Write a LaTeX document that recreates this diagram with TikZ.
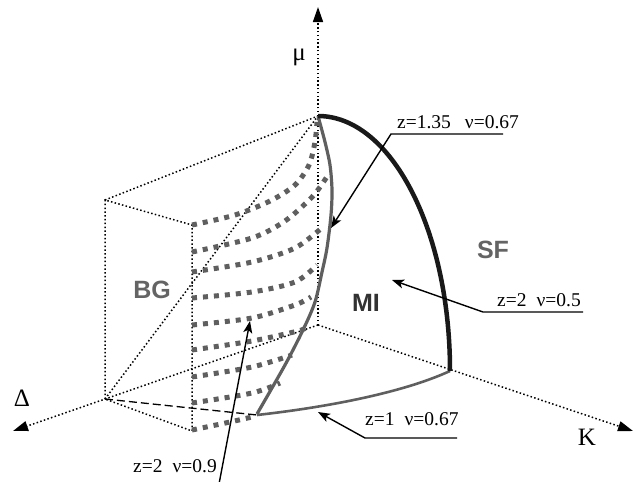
\documentclass[tikz,border=0pt]{standalone}
\usepackage{fontspec}
\setmainfont{Liberation Serif}
\newfontfamily\lsans{Liberation Sans}
\usetikzlibrary{arrows.meta}
\definecolor{dgray}{RGB}{95,95,95}
\definecolor{rgray}{RGB}{100,100,100}
\definecolor{mgray}{RGB}{50,50,50}
\begin{document}
\begin{tikzpicture}[x=1pt,y=-1pt,
  fine/.style={line width=1.5pt, dash pattern=on 1.5pt off 2.3pt},
  axis/.style={fine, -{Triangle[length=15pt,width=10pt]}},
  longdash/.style={line width=1.3pt, dash pattern=on 8pt off 4pt},
  sq/.style={line width=5pt, dash pattern=on 5pt off 6pt, draw=dgray},
  mi/.style={line width=3.2pt, draw=dgray, line join=round},
  bot/.style={line width=2.6pt, draw=dgray},
  sf/.style={line width=4.5pt, draw=black!90},
  lead/.style={line width=1.4pt, -{Stealth[length=12pt,width=9pt,inset=3pt]}},
  ann/.style={font=\fontsize{19.5}{22}\selectfont, inner sep=0pt, anchor=base west},
  axlab/.style={font=\fontsize{25}{28}\selectfont, inner sep=0pt},
  reg/.style={font=\lsans\bfseries\fontsize{25}{28}\selectfont, inner sep=0pt, text=rgray},
]
\useasboundingbox (0,0) rectangle (641,482);
% key points
\coordinate (O) at (318,325);
\coordinate (muTip) at (318,7);
\coordinate (KTip) at (633,431);
\coordinate (DTip) at (13,431);
\coordinate (T) at (318,116);
\coordinate (D0) at (105,399);
\coordinate (BTL) at (105,200);
\coordinate (FTL) at (192,225);
\coordinate (FBL) at (192,431);
\coordinate (G0) at (257,415);
\coordinate (S0) at (450,371);
% axes
\draw[axis] (O) -- (muTip);
\draw[axis] (O) -- (KTip);
\draw[axis] (O) -- (DTip);
% box
\draw[fine] (D0) -- (BTL) -- (FTL) -- (FBL) -- (D0);
\draw[fine] (BTL) -- (T);
\draw[fine] (D0) -- (T);
\draw[longdash] (D0) -- (G0);
% square-dotted curves
\draw[sq] plot[smooth] coordinates {(192,225) (235,215) (270,201) (295,185) (309,165) (315,142) (317,122)};
\draw[sq] plot[smooth] coordinates {(192,252) (252,238) (285,221) (313,196) (328,175)};
\draw[sq] plot[smooth] coordinates {(192,272) (252,262) (295,248) (324,226)};
\draw[sq] plot[smooth] coordinates {(192,298) (252,292) (295,282) (317,265)};
\draw[sq] plot[smooth] coordinates {(192,325) (252,318) (295,305) (311,297)};
\draw[sq] plot[smooth] coordinates {(192,350) (252,341) (298,331) (305,328)};
\draw[sq] plot[smooth] coordinates {(192,377) (252,367) (292,355)};
\draw[sq] plot[smooth] coordinates {(192,403) (252,393) (280,383)};
\draw[sq] plot[smooth] coordinates {(192,430) (230,422) (252,417)};
% MI boundary
\draw[mi] plot[smooth] coordinates {(318,116) (325,142) (330,165) (332,190) (331,215) (327,248) (322,272) (315,302) (303,330) (285,365) (257,414)};
\draw[bot] (G0) .. controls (320,408) and (400,394) .. (S0);
% SF boundary
\draw[sf] (T) .. controls (391,116) and (450,230) .. (S0);
% labels
\node[axlab] (mu) at (299,57) {μ};
\node[axlab] (dl) at (22,398) {Δ};
\node[axlab] (kl) at (587,437) {K};
\node[reg] (bg) at (152,290) {BG};
\node[reg, text=mgray] (mil) at (366,303) {MI};
\node[reg] (sfl) at (493,250) {SF};
% annotations
\node[ann] (a1) at (397,128) {z=1.35\hspace{14pt}ν=0.67};
\coordinate (u1) at (391,134); \coordinate (u1e) at (503,134); \coordinate (t1) at (331,228);
\draw[lead] (u1e) -- (u1) -- (t1);
\node[ann] (a2) at (497,306) {z=2\hspace{10pt}ν=0.5};
\coordinate (u2) at (483,312); \coordinate (u2e) at (583,312); \coordinate (t2) at (392,280);
\draw[lead] (u2e) -- (u2) -- (t2);
\node[ann] (a3) at (365,425) {z=1\hspace{10pt}ν=0.67};
\coordinate (u3) at (365,438); \coordinate (u3e) at (457,438); \coordinate (t3) at (318,412);
\draw[lead] (u3e) -- (u3) -- (t3);
\node[ann] (a4) at (133,472) {z=2\hspace{10pt}ν=0.9};
\coordinate (u4) at (219,484); \coordinate (t4) at (250,321);
\draw[lead] (u4) -- (t4);
\end{tikzpicture}
\end{document}
